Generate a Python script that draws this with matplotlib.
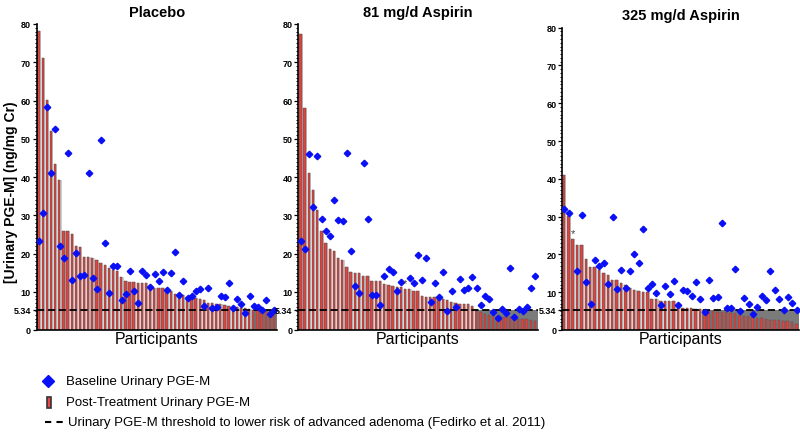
import numpy as np
import matplotlib.pyplot as plt
from matplotlib.lines import Line2D
from matplotlib.patches import Rectangle
from matplotlib.ticker import FixedLocator, MultipleLocator

plt.rcParams['font.family'] = ['Liberation Sans', 'DejaVu Sans']

THRESH = 5.34
nan = np.nan

titles = ['Placebo', '81 mg/d Aspirin', '325 mg/d Aspirin']

# post-treatment PGE-M (bars), sorted descending
placebo_post = [78.2, 71.1, 60.2, 52.0, 43.5, 39.1, 26.0, 26.0, 25.1, 21.9,
                21.7, 19.2, 19.0, 18.8, 18.2, 17.5, 16.9, 16.3, 15.6, 15.4,
                13.9, 12.7, 12.6, 12.6, 12.2, 12.2, 12.2, 11.6, 11.0, 11.0,
                10.9, 10.5, 10.2, 9.4, 9.3, 9.2, 8.6, 8.5, 8.4, 8.2,
                7.8, 7.1, 7.0, 6.9, 6.8, 6.6, 6.3, 6.1, 6.0, 5.8,
                5.7, 5.5, 5.3, 5.2, 5.1, 5.0, 4.8, 4.5]
placebo_base = [23.2, 30.5, 58.3, 41.0, 52.6, 21.9, 18.9, 46.3, 13.0, 20.2,
                14.1, 14.3, 41.1, 13.6, 10.7, 49.7, 22.7, 9.7, 16.8, 16.8,
                7.9, 9.4, 15.4, 10.2, 7.0, 15.4, 14.4, 11.3, 14.6, 12.7,
                15.1, 10.4, 14.9, 20.3, 9.2, 12.9, 8.4, 8.8, 10.1, 10.6,
                6.4, 10.9, 5.7, 6.0, 8.9, 8.7, 12.4, 5.7, 8.0, 6.8,
                4.4, 9.0, 6.2, 5.9, 5.2, 7.9, 4.2, 5.1]

asp81_post = [77.4, 58.0, 41.0, 36.6, 31.5, 25.8, 22.8, 21.2, 20.6, 18.7,
              18.3, 16.4, 15.1, 15.0, 14.8, 14.2, 14.0, 12.9, 12.8, 12.8,
              11.9, 11.8, 11.4, 11.2, 11.2, 10.7, 10.7, 10.3, 10.3, 9.0,
              8.7, 8.7, 8.5, 8.1, 8.1, 7.8, 7.4, 7.0, 6.8, 6.8,
              6.8, 6.2, 5.0, 4.6, 4.2, 4.0, 3.7, 3.6, 3.5, 3.4,
              3.3, 3.2, 3.0, 2.9, 2.8, 2.5, 2.3]
asp81_base = [23.3, 21.1, 46.0, 32.2, 45.4, 29.1, 26.0, 24.6, 33.9, 28.8,
              28.6, 46.2, 20.6, 11.4, 9.7, 43.7, 29.0, 9.2, 9.2, 6.5,
              14.0, 16.0, 15.2, 10.2, 12.6, nan, 13.5, 12.4, 19.7, 13.1,
              18.9, 7.4, 12.2, 8.5, 15.2, 5.0, 10.3, 6.1, 13.3, 10.5,
              10.9, 13.8, 11.0, 6.5, 8.9, 8.2, 4.8, 3.1, 5.5, 4.5,
              16.3, 3.5, 5.5, 5.0, 6.0, 11.0, 14.2]

asp325_post = [41.1, 30.1, 24.1, 22.6, 22.6, 18.7, 16.7, 16.6, 16.0, 15.1,
               14.5, 13.3, 13.3, 12.4, 11.9, 11.0, 10.5, 10.4, 10.1, 10.0,
               8.3, 8.3, 7.7, 7.7, 7.7, 7.7, 6.3, 5.9, 5.7, 5.7,
               5.6, 5.6, 5.2, 5.0, 5.0, 4.8, 4.7, 4.7, 4.4, 4.4,
               4.1, 3.6, 3.6, 3.5, 3.3, 3.3, 3.0, 2.6, 2.6, 2.6,
               2.5, 2.4, 2.2, 1.6]
asp325_base = [31.9, 31.0, nan, 15.5, 30.5, 12.7, 6.9, 18.4, 17.0, 17.7,
               12.2, 29.9, 10.8, 15.9, 11.2, 15.7, 20.0, 17.7, 26.6, 11.2,
               12.2, 9.8, 6.6, 11.6, 9.4, 12.9, 6.5, 10.6, 10.3, 9.1,
               12.6, 8.2, 4.8, 13.2, 8.4, 8.7, 28.4, 5.9, 5.9, 16.2,
               5.0, 8.5, 6.9, 4.3, 6.0, 8.9, 7.9, 15.6, 10.6, 8.1,
               5.2, 8.8, 7.1, 5.4]

ytick_vals = [0, THRESH, 10, 20, 30, 40, 50, 60, 70, 80]
ytick_labs = ['0', '5.34', '10', '20', '30', '40', '50', '60', '70', '80']

W, H = 800, 435
fig = plt.figure(figsize=(8, 4.35), dpi=100)

# left px, right px, top px, xpad left/right (in bar units)
boxes = [(36.5, 277, 25, 0.6, 0.65),
         (298, 538, 25, 0.65, 0.65),
         (562, 799, 28.6, 0.52, 0.5)]
data = [(placebo_post, placebo_base), (asp81_post, asp81_base), (asp325_post, asp325_base)]

for (l, r, t, pl, pr), (post, base), title in zip(boxes, data, titles):
    ax = fig.add_axes([l / W, 1 - 331 / H, (r - l) / W, (331 - t) / H])
    post = np.array(post)
    base = np.array(base)
    n = len(post)
    x = np.arange(n)
    ax.bar(x + 0.18, post, width=0.6, color='#cfcfcf', zorder=1)
    first = np.where(post < THRESH)[0][0]
    ax.add_patch(Rectangle((first - 0.5, 0), n - first + 1, THRESH,
                           facecolor='#7b7b7b', edgecolor='none', zorder=1.5))
    ax.bar(x - 0.08, post, width=0.56, color='#dc4440', edgecolor='#505050',
           linewidth=0.35, zorder=2)
    ax.axhline(THRESH, color='black', ls=(0, (4, 2)), lw=1.3, zorder=4)
    ax.plot(x, base, ls='none', marker='D', color='#0a10f5', ms=3.3, zorder=5)
    # missing baseline marked with a star
    for i in np.where(np.isnan(base))[0]:
        ax.text(i - 0.05, post[i] + 0.3, '*', ha='center', va='bottom',
                fontsize=8, color='#444444', zorder=5)

    ax.set_xlim(-pl, n - 1 + pr)
    ax.set_ylim(0, 80)
    ax.yaxis.set_major_locator(FixedLocator(ytick_vals))
    ax.set_yticklabels(ytick_labs, fontsize=6.5, fontweight='bold')
    ax.yaxis.set_minor_locator(MultipleLocator(1))
    ax.tick_params(axis='y', which='major', length=3, width=0.9, pad=1)
    ax.tick_params(axis='y', which='minor', length=1.6, width=0.7)
    ax.set_xticks([])
    for s in ['top', 'right']:
        ax.spines[s].set_visible(False)
    ax.spines['left'].set_linewidth(1.2)
    ax.spines['bottom'].set_linewidth(1.2)
    ax.set_xlabel('Participants', fontsize=11.5, labelpad=1)
    ax.set_title(title, fontsize=10.5, fontweight='bold', pad=6)

fig.text(11 / W, 1 - 192 / H, '[Urinary PGE-M] (ng/mg Cr)', rotation=90,
         ha='center', va='center', fontsize=10, fontweight='bold')

# legend
fig.add_artist(Line2D([48 / W], [1 - 382 / H], marker='D', color='#0a10f5',
                      ms=6, ls='none', transform=fig.transFigure))
fig.text(66 / W, 1 - 382 / H, 'Baseline Urinary PGE-M', fontsize=9.5, va='center')
fig.add_artist(Rectangle((46.5 / W, 1 - 409 / H), 4.5 / W, 11 / H,
                         facecolor='#e8484a', edgecolor='#333333', lw=1.2,
                         transform=fig.transFigure))
fig.text(66 / W, 1 - 403 / H, 'Post-Treatment Urinary PGE-M', fontsize=9.5, va='center')
fig.add_artist(Line2D([45 / W, 65 / W], [1 - 423 / H, 1 - 423 / H], color='black',
                      ls=(0, (3, 2.5)), lw=1.5, transform=fig.transFigure))
fig.text(68 / W, 1 - 423 / H,
         'Urinary PGE-M threshold to lower risk of advanced adenoma (Fedirko et al. 2011)',
         fontsize=9.5, va='center')

fig.savefig('out.png', dpi=100)
